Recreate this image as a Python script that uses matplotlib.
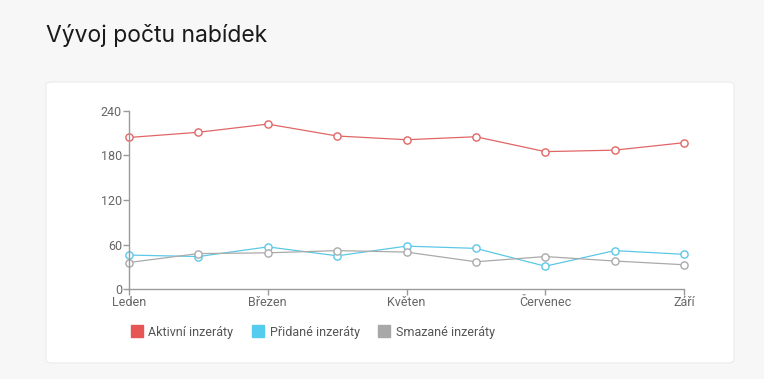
import matplotlib.pyplot as plt
from matplotlib.patches import FancyBboxPatch
from matplotlib.lines import Line2D

months = ["Leden", "Únor", "Březen", "Duben", "Květen", "Červen", "Červenec", "Srpen", "Září"]
aktivni = [204, 211, 222, 206, 201, 205, 185, 187, 197]
pridane = [46, 44, 57, 45, 58, 55, 31, 52, 47]
smazane = [36, 48, 49, 52, 50, 37, 44, 38, 33]

series_names = ["Aktivní inzeráty", "Přidané inzeráty", "Smazané inzeráty"]
line_colors = ["#e06666", "#5cc8e6", "#aaaaaa"]
swatch_colors = ["#e85555", "#55cbee", "#a8a8a8"]

plt.rcParams["font.family"] = ["Roboto", "DejaVu Sans"]

fig = plt.figure(figsize=(7.64, 3.79), dpi=100)
fig.patch.set_facecolor("#f7f7f7")

# white card behind the chart
card = FancyBboxPatch((46 / 764, 16 / 379), 688 / 764, 281 / 379,
                      boxstyle="round,pad=0,rounding_size=0.008",
                      transform=fig.transFigure, facecolor="white",
                      edgecolor="#ebebeb", linewidth=0.8, zorder=-5)
fig.patches.append(card)

fig.text(46 / 764, 1 - 42 / 379, "Vývoj počtu nabídek", fontsize=16.5,
         family=["Inter", "DejaVu Sans"], color="#1a1a1a", va="baseline", ha="left")

ax = fig.add_axes([129 / 764, 89.7 / 379, 555 / 764, 178.6 / 379])
ax.set_zorder(2)
ax.set_facecolor("none")

x = list(range(len(months)))
for vals, c in zip([aktivni, pridane, smazane], line_colors):
    ax.plot(x, vals, color=c, linewidth=0.9, marker="o", markersize=5.2,
            markerfacecolor="white", markeredgecolor=c, markeredgewidth=1.0,
            clip_on=False)

ax.set_xlim(0, len(months) - 1)
ax.set_ylim(0, 240)
ax.set_yticks([0, 60, 120, 180, 240])
ax.set_xticks(x[::2])
ax.set_xticklabels(months[::2])

for s in ["top", "right"]:
    ax.spines[s].set_visible(False)
for s in ["left", "bottom"]:
    ax.spines[s].set_color("#9a9a9a")
    ax.spines[s].set_linewidth(1.0)
ax.tick_params(axis="both", colors="#9a9a9a", labelcolor="#666666",
               labelsize=9, length=4, width=1.0, pad=1)

handles = [Line2D([], [], linestyle="none", marker="s", markersize=9,
                  markerfacecolor=c, markeredgecolor=c) for c in swatch_colors]
leg = ax.legend(handles, series_names, loc="upper left",
                bbox_to_anchor=(-0.018, -0.14), ncol=3, frameon=False,
                fontsize=9, handletextpad=0.45, columnspacing=1.45,
                handlelength=1.0)
for t in leg.get_texts():
    t.set_color("#555555")

fig.savefig("out.png", dpi=100, facecolor=fig.get_facecolor())
